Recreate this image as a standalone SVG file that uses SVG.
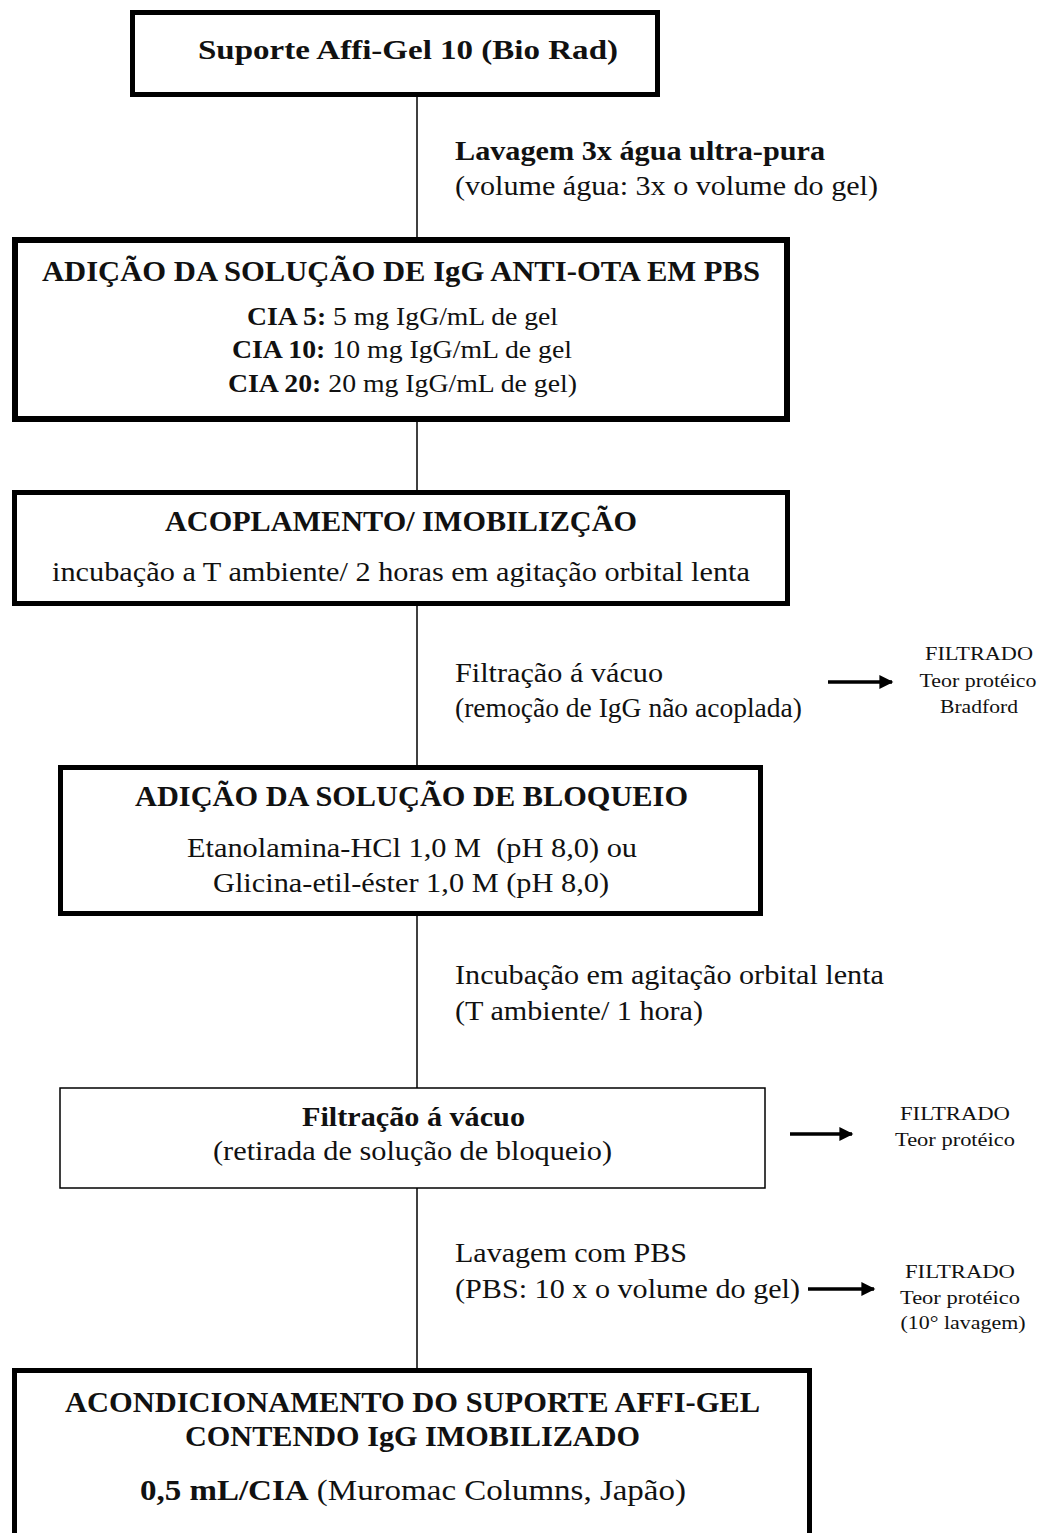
<svg xmlns="http://www.w3.org/2000/svg" width="1045" height="1533" viewBox="0 0 1045 1533" font-family="'Liberation Serif', Tinos, 'Times New Roman', serif">
  <style>
    text { font-family: "Liberation Serif", Tinos, "Times New Roman", serif; fill: #111; }
    .b { font-weight: bold; }
    .ttl { font-size: 29px; font-weight: bold; }
    .big { font-size: 27px; }
    .mid { font-size: 25px; }
    .sm { font-size: 19px; }
    .box { fill: #fff; stroke: #000; stroke-width: 5; }
    .thin { fill: #fff; stroke: #000; stroke-width: 1.5; }
    .link { stroke: #000; stroke-width: 1.5; fill: none; }
    .arr { stroke: #000; stroke-width: 3.5; fill: none; }
  </style>
  <defs>
    <marker id="head" viewBox="0 0 10 10" refX="9" refY="5" markerWidth="5" markerHeight="4" orient="auto" markerUnits="strokeWidth">
      <path d="M0,0 L10,5 L0,10 Z" fill="#000"/>
    </marker>
  </defs>
  <rect width="1045" height="1533" fill="#fff"/>

  <!-- connectors -->
  <g id="connectors">
    <line class="link" x1="417" y1="97" x2="417" y2="237"/>
    <line class="link" x1="417" y1="422" x2="417" y2="490"/>
    <line class="link" x1="417" y1="606" x2="417" y2="765"/>
    <line class="link" x1="417" y1="916" x2="417" y2="1088"/>
    <line class="link" x1="417" y1="1188" x2="417" y2="1368"/>
    <line class="arr" x1="828" y1="682" x2="892" y2="682" marker-end="url(#head)"/>
    <line class="arr" x1="790" y1="1134" x2="852" y2="1134" marker-end="url(#head)"/>
    <line class="arr" x1="808" y1="1289" x2="874" y2="1289" marker-end="url(#head)"/>
  </g>

  <!-- step labels -->
  <g id="label-lavagem">
    <text class="big b" x="455" y="160" textLength="370" lengthAdjust="spacingAndGlyphs">Lavagem 3x água ultra-pura</text>
    <text class="big" x="455" y="195" textLength="423" lengthAdjust="spacingAndGlyphs">(volume água: 3x o volume do gel)</text>
  </g>
  <g id="label-filtracao">
    <text class="big" x="455" y="682" textLength="208" lengthAdjust="spacingAndGlyphs">Filtração á vácuo</text>
    <text class="big" x="455" y="717" textLength="347" lengthAdjust="spacingAndGlyphs">(remoção de IgG não acoplada)</text>
  </g>
  <g id="label-incubacao">
    <text class="big" x="455" y="984" textLength="429" lengthAdjust="spacingAndGlyphs">Incubação em agitação orbital lenta</text>
    <text class="big" x="455" y="1020" textLength="248" lengthAdjust="spacingAndGlyphs">(T ambiente/ 1 hora)</text>
  </g>
  <g id="label-lavagem-pbs">
    <text class="big" x="455" y="1262" textLength="232" lengthAdjust="spacingAndGlyphs">Lavagem com PBS</text>
    <text class="big" x="455" y="1298" textLength="345" lengthAdjust="spacingAndGlyphs">(PBS: 10 x o volume do gel)</text>
  </g>

  <!-- filtrate notes -->
  <g id="filtrado-1" text-anchor="middle">
    <text class="sm" x="979" y="660" textLength="108" lengthAdjust="spacingAndGlyphs">FILTRADO</text>
    <text class="sm" x="978" y="687" textLength="117" lengthAdjust="spacingAndGlyphs">Teor protéico</text>
    <text class="sm" x="979" y="713" textLength="78" lengthAdjust="spacingAndGlyphs">Bradford</text>
  </g>
  <g id="filtrado-2" text-anchor="middle">
    <text class="sm" x="955" y="1120" textLength="110" lengthAdjust="spacingAndGlyphs">FILTRADO</text>
    <text class="sm" x="955" y="1146" textLength="120" lengthAdjust="spacingAndGlyphs">Teor protéico</text>
  </g>
  <g id="filtrado-3" text-anchor="middle">
    <text class="sm" x="960" y="1278" textLength="110" lengthAdjust="spacingAndGlyphs">FILTRADO</text>
    <text class="sm" x="960" y="1304" textLength="120" lengthAdjust="spacingAndGlyphs">Teor protéico</text>
    <text class="sm" x="963" y="1329" textLength="125" lengthAdjust="spacingAndGlyphs">(10° lavagem)</text>
  </g>

  <!-- nodes -->
  <g id="suporte">
    <rect class="box" x="132.5" y="12.5" width="525" height="82"/>
    <text class="big b" x="198" y="59" textLength="420" lengthAdjust="spacingAndGlyphs">Suporte Affi-Gel 10 (Bio Rad)</text>
  </g>

  <g id="adicao-igg">
    <rect class="box" x="15" y="240" width="772" height="179" style="stroke-width:6"/>
    <text class="ttl" x="42" y="281" textLength="718" lengthAdjust="spacingAndGlyphs" style="font-size:30px">ADIÇÃO DA SOLUÇÃO DE IgG ANTI-OTA EM PBS</text>
    <text class="mid" x="247" y="325" textLength="311" lengthAdjust="spacingAndGlyphs"><tspan class="b">CIA 5:</tspan> 5 mg IgG/mL de gel</text>
    <text class="mid" x="232" y="358" textLength="340" lengthAdjust="spacingAndGlyphs"><tspan class="b">CIA 10:</tspan> 10 mg IgG/mL de gel</text>
    <text class="mid" x="228" y="392" textLength="349" lengthAdjust="spacingAndGlyphs"><tspan class="b">CIA 20:</tspan> 20 mg IgG/mL de gel)</text>
  </g>

  <g id="acoplamento">
    <rect class="box" x="14.5" y="492.5" width="773" height="111"/>
    <text class="ttl" x="165" y="531" textLength="472" lengthAdjust="spacingAndGlyphs">ACOPLAMENTO/ IMOBILIZÇÃO</text>
    <text class="big" x="52" y="581" textLength="698" lengthAdjust="spacingAndGlyphs">incubação a T ambiente/ 2 horas em agitação orbital lenta</text>
  </g>

  <g id="bloqueio">
    <rect class="box" x="60.5" y="767.5" width="700" height="146"/>
    <text class="ttl" x="135" y="806" textLength="553" lengthAdjust="spacingAndGlyphs">ADIÇÃO DA SOLUÇÃO DE BLOQUEIO</text>
    <text class="big" x="187" y="857" textLength="450" lengthAdjust="spacingAndGlyphs" xml:space="preserve">Etanolamina-HCl 1,0 M  (pH 8,0) ou</text>
    <text class="big" x="213" y="892" textLength="396" lengthAdjust="spacingAndGlyphs">Glicina-etil-éster 1,0 M (pH 8,0)</text>
  </g>

  <g id="filtracao-vacuo">
    <rect class="thin" x="60" y="1088" width="705" height="100"/>
    <text class="big b" x="302" y="1126" textLength="223" lengthAdjust="spacingAndGlyphs">Filtração á vácuo</text>
    <text class="big" x="213" y="1160" textLength="399" lengthAdjust="spacingAndGlyphs">(retirada de solução de bloqueio)</text>
  </g>

  <g id="acondicionamento">
    <rect class="box" x="14.5" y="1370.5" width="795" height="180"/>
    <text class="ttl" x="65" y="1412" textLength="695" lengthAdjust="spacingAndGlyphs">ACONDICIONAMENTO DO SUPORTE AFFI-GEL</text>
    <text class="ttl" x="185" y="1446" textLength="455" lengthAdjust="spacingAndGlyphs">CONTENDO IgG IMOBILIZADO</text>
    <text class="big" x="140" y="1500" textLength="546" lengthAdjust="spacingAndGlyphs" style="font-size:29px"><tspan class="b">0,5 mL/CIA</tspan> (Muromac Columns, Japão)</text>
  </g>
</svg>
